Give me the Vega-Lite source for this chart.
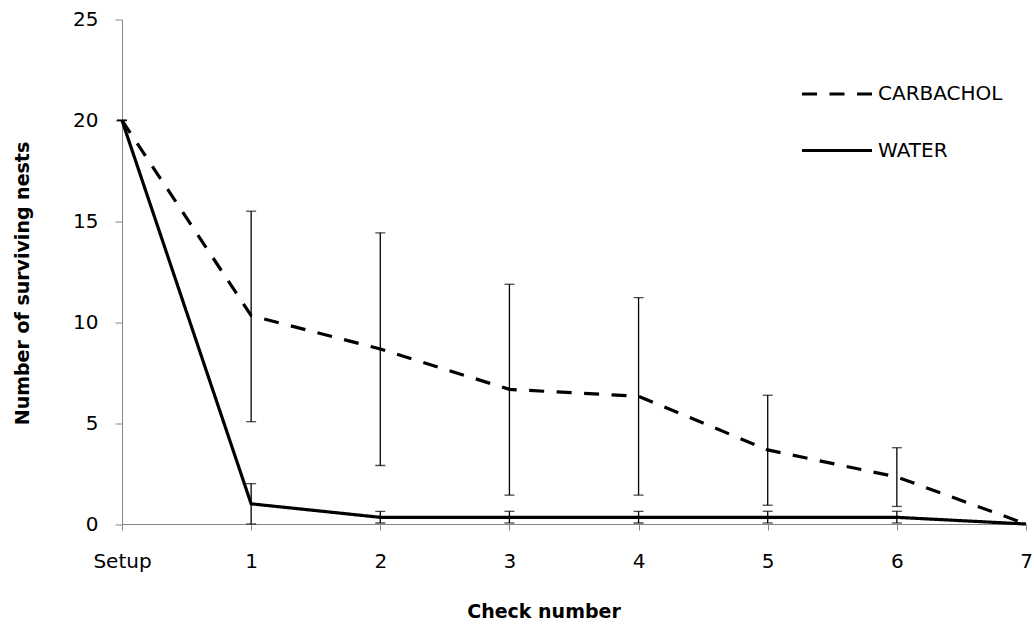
{
  "$schema": "https://vega.github.io/schema/vega-lite/v6.json",
  "autosize": {"type": "none"},
  "padding": {"left": 122, "top": 19.5, "right": 8, "bottom": 102},
  "width": 904,
  "height": 504.5,
  "background": "white",
  "config": {
    "view": {"stroke": null},
    "font": "DejaVu Sans",
    "axis": {
      "domainColor": "#868686",
      "tickColor": "#868686",
      "grid": false,
      "labelColor": "#000000",
      "titleColor": "#000000",
      "labelFont": "DejaVu Sans",
      "titleFont": "DejaVu Sans",
      "labelFontSize": 20,
      "titleFontSize": 19,
      "titleFontWeight": "bold"
    }
  },
  "data": {
    "values": [
      {"check": 0, "series": "CARBACHOL", "mean": 20, "lo": 20, "hi": 20},
      {"check": 1, "series": "CARBACHOL", "mean": 10.33, "lo": 5.07, "hi": 15.5},
      {"check": 2, "series": "CARBACHOL", "mean": 8.67, "lo": 2.9, "hi": 14.43},
      {"check": 3, "series": "CARBACHOL", "mean": 6.67, "lo": 1.43, "hi": 11.88},
      {"check": 4, "series": "CARBACHOL", "mean": 6.33, "lo": 1.43, "hi": 11.22},
      {"check": 5, "series": "CARBACHOL", "mean": 3.67, "lo": 0.93, "hi": 6.38},
      {"check": 6, "series": "CARBACHOL", "mean": 2.33, "lo": 0.87, "hi": 3.78},
      {"check": 7, "series": "CARBACHOL", "mean": 0},
      {"check": 0, "series": "WATER", "mean": 20, "lo": 20, "hi": 20},
      {"check": 1, "series": "WATER", "mean": 1, "lo": 0, "hi": 2},
      {"check": 2, "series": "WATER", "mean": 0.33, "lo": 0.05, "hi": 0.63},
      {"check": 3, "series": "WATER", "mean": 0.33, "lo": 0.05, "hi": 0.63},
      {"check": 4, "series": "WATER", "mean": 0.33, "lo": 0.05, "hi": 0.63},
      {"check": 5, "series": "WATER", "mean": 0.33, "lo": 0.05, "hi": 0.63},
      {"check": 6, "series": "WATER", "mean": 0.33, "lo": 0.05, "hi": 0.63},
      {"check": 7, "series": "WATER", "mean": 0}
    ]
  },
  "encoding": {
    "x": {
      "field": "check",
      "type": "quantitative",
      "scale": {"domain": [0, 7], "nice": false, "zero": false},
      "axis": {
        "title": "Check number",
        "values": [0, 1, 2, 3, 4, 5, 6, 7],
        "labelExpr": "datum.value == 0 ? 'Setup' : datum.label",
        "labelFlush": false,
        "labelOverlap": false,
        "tickSize": 6,
        "labelPadding": 21,
        "titlePadding": 31,
        "titleX": 421.5
      }
    }
  },
  "layer": [
    {
      "transform": [{"filter": "isValid(datum.lo)"}],
      "mark": {"type": "rule", "color": "black", "strokeWidth": 1.3},
      "encoding": {
        "y": {"field": "lo", "type": "quantitative"},
        "y2": {"field": "hi"}
      }
    },
    {
      "transform": [{"filter": "isValid(datum.lo)"}],
      "mark": {"type": "tick", "orient": "horizontal", "color": "black", "size": 10, "thickness": 1.3},
      "encoding": {"y": {"field": "lo", "type": "quantitative"}}
    },
    {
      "transform": [{"filter": "isValid(datum.hi)"}],
      "mark": {"type": "tick", "orient": "horizontal", "color": "black", "size": 10, "thickness": 1.3},
      "encoding": {"y": {"field": "hi", "type": "quantitative"}}
    },
    {
      "mark": {"type": "line", "color": "black", "strokeWidth": 3.2},
      "encoding": {
        "y": {
          "field": "mean",
          "type": "quantitative",
          "scale": {"domain": [0, 25], "nice": false},
          "axis": {
            "title": "Number of surviving nests",
            "values": [0, 5, 10, 15, 20, 25],
            "tickSize": 7,
            "labelPadding": 17,
            "titlePadding": 40,
            "titleY": 263.5
          }
        },
        "strokeDash": {
          "field": "series",
          "type": "nominal",
          "scale": {"domain": ["CARBACHOL", "WATER"], "range": [[15, 12.5], [1, 0]]},
          "legend": {
            "title": null,
            "orient": "none",
            "legendX": 678,
            "legendY": 37.5,
            "symbolType": "stroke",
            "symbolSize": 4900,
            "symbolStrokeWidth": 3.2,
            "symbolStrokeColor": "black",
            "labelFont": "DejaVu Sans",
            "labelFontSize": 20,
            "labelColor": "#000000",
            "labelOffset": 4,
            "rowPadding": 9.5
          }
        }
      }
    }
  ]
}
